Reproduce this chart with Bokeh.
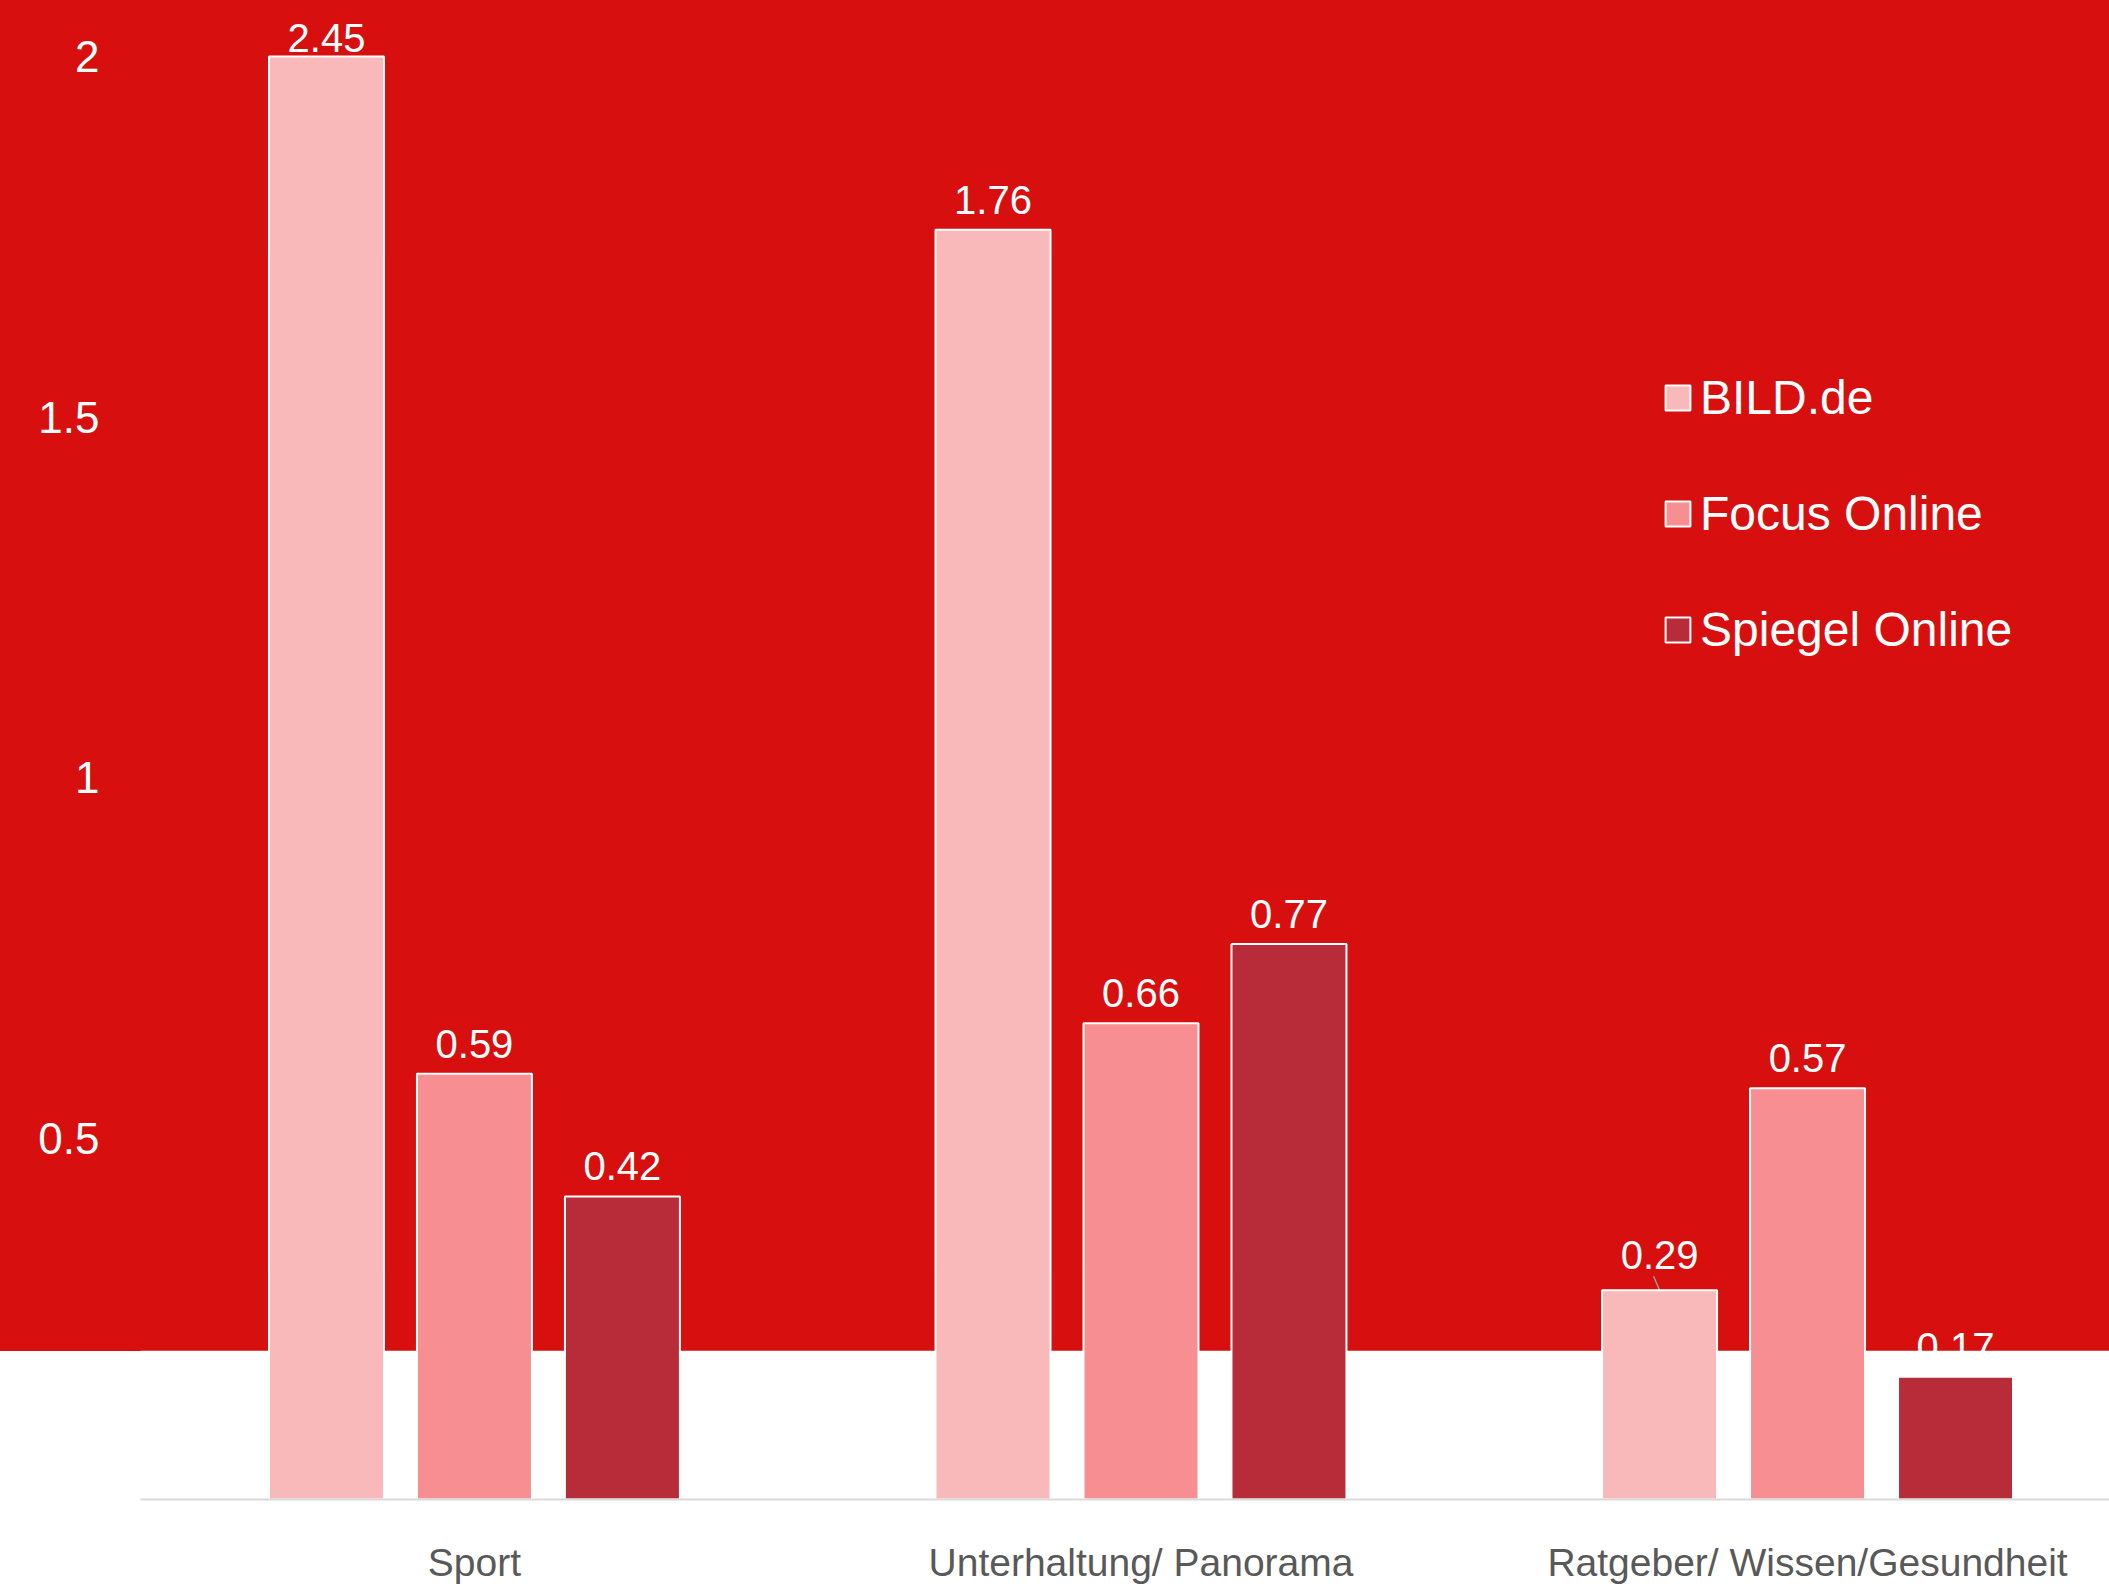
from bokeh.plotting import figure
from bokeh.models import ColumnDataSource, FixedTicker, Legend, LegendItem, Range1d
from bokeh.core.properties import value
from bokeh.embed import file_html
from bokeh.resources import INLINE

# ---- data ----
categories = ["Sport", "Unterhaltung/ Panorama", "Ratgeber/ Wissen/Gesundheit"]
series = ["BILD.de", "Focus Online", "Spiegel Online"]
bild = [2.45, 1.76, 0.29]
focus = [0.59, 0.66, 0.57]
spiegel = [0.42, 0.77, 0.17]
y_ticks = [0.5, 1, 1.5, 2]

# ---- style ----
colors = ["#F9B8B9", "#F68E92", "#B82B39"]
RED = "#D7100F"
Y_CAP = 2.0          # axis maximum of the original chart; taller bars are cut there
BAND_TOP = 0.206     # white band at the bottom of the background
offsets = [-0.222, 0.0, 0.222]
BAR_W = 0.1725
PX_PER_UNIT = 722.0
PX_PER_CAT = 666.5

x_range = Range1d(-0.501, 2.453)
y_range = Range1d(0, 1500 / PX_PER_UNIT)

p = figure(width=2109, height=1586, output_backend="svg", toolbar_location=None,
           x_range=x_range, y_range=y_range,
           min_border_left=140, min_border_right=0, min_border_top=0, min_border_bottom=86,
           background_fill_color=None, border_fill_color=None, outline_line_color=None,
           styles={"background": f"linear-gradient({RED} 0px, {RED} 1351px, #FFFFFF 1351px)"})

values = [bild, focus, spiegel]

# value labels (drawn first, underneath the white band, as in the original)
lx, ly, lt = [], [], []
for si, vals in enumerate(values):
    for ci, v in enumerate(vals):
        if v > Y_CAP:
            gap = 18
        elif si == 0 and ci == 2:
            gap = 35
        else:
            gap = 30
        lx.append(ci + offsets[si])
        ly.append(min(v, Y_CAP) + gap / PX_PER_UNIT)
        lt.append(f"{v:.2f}")
lab_src = ColumnDataSource(dict(x=lx, y=ly, text=lt))
p.text(x="x", y="y", text="text", source=lab_src,
       text_align="center", text_baseline="alphabetic",
       text_font=value("Liberation Sans"), text_font_size="40px", text_color="white")

# leader line of the moved 0.29 label
lead_x = 2 + offsets[0]
lead_v = bild[2]
p.segment(x0=[lead_x - 6 / PX_PER_CAT], y0=[lead_v + 14 / PX_PER_UNIT], x1=[lead_x], y1=[lead_v],
          line_color="#9A9A9A", line_width=1.5)

# white band of the background
p.quad(left=[x_range.start], right=[x_range.end], bottom=[0], top=[BAND_TOP],
       fill_color="white", line_color=None)

# bars
items = []
for si, (name, vals) in enumerate(zip(series, values)):
    src = ColumnDataSource(dict(x=[ci + offsets[si] for ci in range(len(categories))],
                                top=[min(v, Y_CAP) for v in vals]))
    r = p.vbar(x="x", top="top", bottom=0, width=BAR_W, source=src,
               fill_color=colors[si], line_color="white", line_width=2)
    items.append(LegendItem(label=name, renderers=[r]))

legend = Legend(items=items, location=(1522, 842), orientation="vertical",
                glyph_width=31, glyph_height=31, label_standoff=7, spacing=61,
                padding=0, margin=0, background_fill_alpha=0, border_line_color=None,
                label_text_color="white", label_text_font="Liberation Sans",
                label_text_font_size="48px")
p.add_layout(legend)

# axes
p.xaxis.ticker = FixedTicker(ticks=list(range(len(categories))))
p.xaxis.major_label_overrides = {i: c for i, c in enumerate(categories)}
p.xaxis.axis_line_color = "#D9D9D9"
p.xaxis.axis_line_width = 2
p.xaxis.major_tick_line_color = None
p.xaxis.minor_tick_line_color = None
p.xaxis.major_tick_out = 0
p.xaxis.major_tick_in = 0
p.xaxis.major_label_standoff = 41
p.xaxis.major_label_text_font = "Liberation Sans"
p.xaxis.major_label_text_font_size = "39px"
p.xaxis.major_label_text_color = "#595959"

p.yaxis.ticker = FixedTicker(ticks=y_ticks)
p.yaxis.axis_line_color = None
p.yaxis.major_tick_line_color = None
p.yaxis.minor_tick_line_color = None
p.yaxis.major_tick_out = 0
p.yaxis.major_tick_in = 0
p.yaxis.major_label_standoff = 41
p.yaxis.major_label_text_font = "Liberation Sans"
p.yaxis.major_label_text_font_size = "44px"
p.yaxis.major_label_text_color = "white"

p.grid.visible = False

open("out.html", "w").write(file_html(p, INLINE))
